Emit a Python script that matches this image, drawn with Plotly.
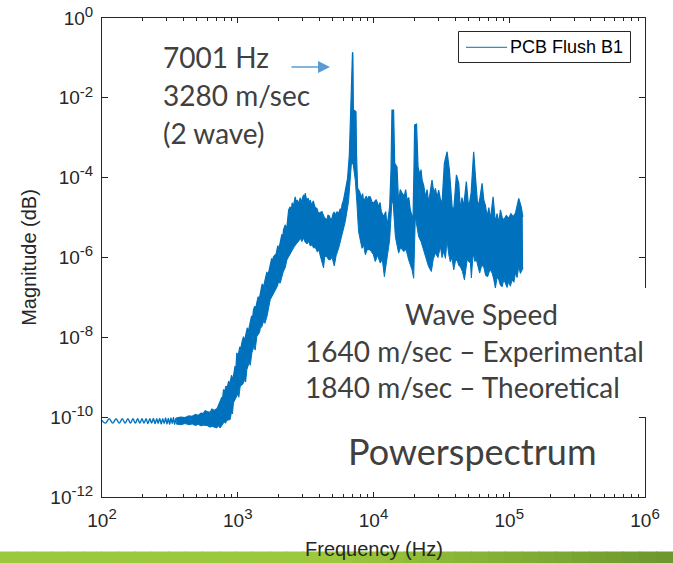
import numpy as np
import plotly.graph_objects as go

# ---------------------------------------------------------------------------
# Power spectrum of sensor "PCB Flush B1"
# ---------------------------------------------------------------------------

# Low-frequency ripple below ~350 Hz (Hz, log10 magnitude)
ripple_hz = [100, 106, 113, 120, 127, 134, 141, 148, 155, 162, 169, 176, 183,
             190, 197, 204, 211, 218, 225, 232, 239, 246, 253, 259, 266, 273,
             280, 287, 294, 301, 308, 315, 322, 329, 336, 343, 351]
ripple_log_mag = [-10.08, -10.15, -10.04, -10.15, -10.04, -10.15, -10.04,
                  -10.15, -10.04, -10.15, -10.04, -10.15, -10.04, -10.15,
                  -10.04, -10.15, -10.04, -10.16, -10.04, -10.15, -10.03,
                  -10.16, -10.04, -10.16, -10.03, -10.17, -10.04, -10.16,
                  -10.02, -10.17, -10.03, -10.18, -10.02, -10.16, -10.01,
                  -10.18, -10.02]

# Dominant resonance
peak_hz = 7001
peak_log_mag = -0.86

# Upper envelope of the dense spectrum: (log10 Hz, log10 magnitude);
# None marks where the resonance apex goes
upper_envelope = [
    (2.546, -10.02), (2.580, -10.00), (2.612, -10.01), (2.640, -9.97),
    (2.664, -9.98), (2.690, -9.93), (2.708, -9.96), (2.730, -9.90),
    (2.745, -9.91), (2.760, -9.84), (2.774, -9.86), (2.796, -9.88),
    (2.810, -9.80), (2.826, -9.83), (2.848, -9.78), (2.860, -9.70),
    (2.870, -9.61), (2.882, -9.50), (2.887, -9.58), (2.895, -9.31),
    (2.905, -9.36), (2.912, -9.22), (2.922, -9.26), (2.933, -9.10),
    (2.938, -9.18), (2.944, -9.11), (2.955, -8.95), (2.960, -9.04),
    (2.968, -8.98), (2.980, -8.72), (2.986, -8.80), (2.993, -8.39),
    (3.003, -8.46), (3.015, -8.24), (3.020, -8.33), (3.030, -8.14),
    (3.042, -7.98), (3.048, -8.08), (3.055, -8.01), (3.070, -7.76),
    (3.078, -7.86), (3.091, -7.64), (3.102, -7.46), (3.108, -7.55),
    (3.116, -7.31), (3.125, -7.22), (3.130, -7.30), (3.136, -7.21),
    (3.150, -6.98), (3.156, -7.08), (3.165, -6.89), (3.180, -6.66),
    (3.188, -6.76), (3.202, -6.56), (3.215, -6.36), (3.222, -6.46),
    (3.239, -6.23), (3.250, -6.02), (3.256, -6.12), (3.263, -5.98),
    (3.283, -5.91), (3.295, -5.70), (3.302, -5.80), (3.313, -5.64),
    (3.325, -5.42), (3.331, -5.52), (3.337, -5.31), (3.350, -5.18),
    (3.356, -5.30), (3.362, -5.23), (3.375, -4.81), (3.386, -4.73),
    (3.393, -4.85), (3.401, -4.63), (3.410, -4.72), (3.423, -4.48),
    (3.430, -4.62), (3.438, -4.56), (3.448, -4.66), (3.460, -4.51),
    (3.470, -4.62), (3.478, -4.50), (3.485, -4.43), (3.491, -4.55),
    (3.497, -4.39), (3.508, -4.58), (3.519, -4.51), (3.527, -4.66),
    (3.534, -4.56), (3.545, -4.70), (3.556, -4.58), (3.570, -4.75),
    (3.583, -4.77), (3.595, -4.90), (3.608, -4.88), (3.620, -4.85),
    (3.638, -5.00), (3.657, -5.06), (3.665, -4.94), (3.674, -4.96),
    (3.684, -5.05), (3.694, -5.02), (3.703, -4.90), (3.711, -4.86),
    (3.721, -4.95), (3.731, -4.85), (3.743, -4.90), (3.755, -4.78),
    (3.762, -4.85), (3.768, -4.68), (3.780, -4.55), (3.792, -4.35),
    (3.809, -4.02), (3.822, -3.43), (3.832, -2.43), (3.8415, -1.20),
    (3.8428, -0.88), None, (3.8476, -0.88), (3.849, -1.20),
    (3.852, -2.43), (3.858, -2.31), (3.871, -2.35),
    (3.875, -3.43), (3.883, -4.27), (3.898, -4.35), (3.905, -4.50),
    (3.910, -4.51), (3.920, -4.40), (3.927, -4.60), (3.947, -4.46),
    (3.955, -4.58), (3.964, -4.48), (3.976, -4.48), (3.990, -4.62),
    (4.001, -4.63), (4.020, -4.55), (4.038, -4.73), (4.048, -4.62),
    (4.058, -4.86), (4.075, -4.98), (4.090, -4.85), (4.100, -5.23),
    (4.119, -4.73), (4.129, -3.81), (4.136, -2.31), (4.148, -2.31),
    (4.156, -3.64), (4.173, -3.73), (4.180, -4.20), (4.185, -4.64),
    (4.197, -4.30), (4.210, -4.39), (4.227, -4.46), (4.237, -4.30),
    (4.247, -4.56), (4.260, -4.50), (4.271, -4.81), (4.291, -5.06),
    (4.298, -3.81), (4.303, -2.68), (4.317, -2.66), (4.328, -3.73),
    (4.341, -3.93), (4.350, -3.80), (4.358, -4.06), (4.370, -4.20),
    (4.382, -4.48), (4.395, -4.30), (4.406, -4.64), (4.431, -4.06),
    (4.445, -4.40), (4.456, -4.27), (4.468, -4.50), (4.480, -4.31),
    (4.493, -4.55), (4.505, -4.64), (4.522, -3.64), (4.542, -3.35),
    (4.559, -3.81), (4.570, -4.30), (4.579, -4.73), (4.591, -4.81),
    (4.611, -3.93), (4.628, -4.14), (4.640, -4.81), (4.652, -4.50),
    (4.664, -4.73), (4.684, -4.10), (4.701, -4.77), (4.719, -4.39),
    (4.738, -3.35), (4.751, -3.98), (4.768, -4.73), (4.782, -4.56),
    (4.800, -4.14), (4.812, -4.56), (4.825, -4.70), (4.837, -4.98),
    (4.850, -4.75), (4.861, -5.06), (4.881, -4.48), (4.898, -5.14),
    (4.910, -4.90), (4.923, -5.14), (4.935, -4.81), (4.948, -5.00),
    (4.959, -5.06), (4.978, -4.95), (4.996, -5.02), (5.012, -4.90),
    (5.029, -4.98), (5.046, -4.89), (5.070, -4.52), (5.088, -4.73),
    (5.100, -4.98),
]

# Lower envelope of the dense spectrum: (log10 Hz, log10 magnitude)
lower_envelope = [
    (2.546, -10.17), (2.580, -10.19), (2.612, -10.16), (2.640, -10.19),
    (2.664, -10.17), (2.690, -10.21), (2.708, -10.18), (2.730, -10.22),
    (2.745, -10.20), (2.774, -10.21), (2.795, -10.25), (2.811, -10.23),
    (2.846, -10.27), (2.855, -10.21), (2.870, -10.27), (2.885, -10.18),
    (2.900, -10.12), (2.910, -10.15), (2.920, -10.08), (2.944, -10.06),
    (2.955, -9.85), (2.961, -9.92), (2.968, -9.64), (2.988, -9.51),
    (3.000, -9.42), (3.008, -9.50), (3.018, -9.23), (3.040, -9.16),
    (3.052, -9.05), (3.058, -9.12), (3.067, -8.81), (3.085, -8.62),
    (3.092, -8.70), (3.104, -8.39), (3.120, -8.22), (3.128, -8.32),
    (3.141, -7.98), (3.160, -7.88), (3.166, -7.78), (3.178, -7.73),
    (3.195, -7.55), (3.200, -7.65), (3.215, -7.48), (3.239, -7.06),
    (3.255, -6.96), (3.262, -6.90), (3.276, -6.81), (3.292, -6.72),
    (3.300, -6.62), (3.313, -6.64), (3.335, -6.36), (3.350, -6.25),
    (3.362, -6.06), (3.380, -5.95), (3.399, -5.81), (3.416, -5.73),
    (3.436, -5.64), (3.448, -5.60), (3.460, -5.51), (3.472, -5.60),
    (3.485, -5.52), (3.497, -5.62), (3.510, -5.66), (3.522, -5.60),
    (3.534, -5.71), (3.548, -5.68), (3.558, -5.76), (3.572, -5.75),
    (3.586, -5.86), (3.598, -5.82), (3.608, -5.96), (3.632, -6.26),
    (3.640, -6.00), (3.652, -5.96), (3.668, -6.05), (3.681, -6.06),
    (3.695, -6.00), (3.711, -6.21), (3.725, -5.95), (3.743, -5.77),
    (3.768, -5.43), (3.792, -5.10), (3.816, -4.60), (3.829, -3.93),
    (3.838, -3.61), (3.851, -3.68), (3.866, -4.06), (3.877, -4.60),
    (3.890, -5.35), (3.915, -5.77), (3.928, -5.70), (3.940, -5.93),
    (3.955, -5.80), (3.976, -5.81), (3.999, -5.93), (4.013, -6.10),
    (4.030, -5.95), (4.050, -6.14), (4.065, -6.05), (4.080, -6.48),
    (4.100, -5.98), (4.119, -5.56), (4.136, -4.56), (4.146, -4.68),
    (4.161, -5.48), (4.185, -5.89), (4.200, -5.75), (4.222, -5.85),
    (4.240, -5.80), (4.259, -6.06), (4.284, -6.31), (4.296, -6.52),
    (4.308, -4.98), (4.333, -5.48), (4.350, -5.60), (4.369, -5.81),
    (4.388, -6.00), (4.406, -6.23), (4.426, -6.35), (4.440, -6.05),
    (4.456, -5.89), (4.475, -6.00), (4.493, -5.73), (4.505, -6.00),
    (4.517, -5.85), (4.530, -6.02), (4.542, -5.56), (4.553, -5.90),
    (4.566, -6.11), (4.578, -6.00), (4.591, -6.31), (4.603, -6.10),
    (4.616, -6.06), (4.628, -6.20), (4.640, -6.23), (4.655, -6.35),
    (4.670, -6.56), (4.690, -6.06), (4.714, -6.14), (4.721, -6.51),
    (4.734, -5.89), (4.746, -6.10), (4.758, -6.06), (4.770, -6.25),
    (4.782, -6.39), (4.797, -6.20), (4.812, -6.23), (4.826, -6.45),
    (4.841, -6.48), (4.858, -6.30), (4.874, -6.39), (4.886, -6.55),
    (4.898, -6.77), (4.910, -6.50), (4.923, -6.56), (4.935, -6.70),
    (4.948, -6.73), (4.960, -6.55), (4.972, -6.64), (4.984, -6.75),
    (4.996, -6.60), (5.008, -6.72), (5.021, -6.56), (5.034, -6.62),
    (5.046, -6.39), (5.058, -6.50), (5.070, -6.23), (5.082, -6.40),
    (5.095, -6.31), (5.102, -6.26),
]

# Axis ticks
x_tick_vals = [1e2, 1e3, 1e4, 1e5, 1e6]
x_tick_exp = ["2", "3", "4", "5", "6"]
y_tick_vals = [1e-12, 1e-10, 1e-8, 1e-6, 1e-4, 1e-2, 1e0]
y_tick_exp = ["-12", "-10", "-8", "-6", "-4", "-2", "0"]

legend_label = "PCB Flush B1"

# ---------------------------------------------------------------------------
# Figure geometry and styling
# ---------------------------------------------------------------------------
W, H = 673, 563
ML, MR, MT, MB = 102, 28, 18, 66
PW, PH = W - ML - MR, H - MT - MB


def pxx(x):
    """Horizontal pixel position -> paper coordinate."""
    return (x - ML) / PW


def pxy(y):
    """Vertical pixel position (from top) -> paper coordinate."""
    return (H - MB - y) / PH


def power_label(exp):
    return '10<sup><span style="font-size:15px">%s</span></sup>' % exp


BLUE = "#0072BD"
AXC = "#262626"
TXT = "#404040"
AX_FONT = "Liberation Sans, Arial, Helvetica, sans-serif"
SLIDE_FONT = "Lato, Carlito, Calibri, sans-serif"

up_x = [np.log10(peak_hz) if p is None else p[0] for p in upper_envelope]
up_y = [peak_log_mag if p is None else p[1] for p in upper_envelope]
lo_x = [p[0] for p in lower_envelope]
lo_y = [p[1] for p in lower_envelope]

fig = go.Figure()
fig.add_trace(go.Scatter(
    x=ripple_hz, y=10 ** np.array(ripple_log_mag), mode="lines",
    line=dict(color=BLUE, width=1.4, shape="spline", smoothing=1),
    name=legend_label, showlegend=False))
fig.add_trace(go.Scatter(
    x=10 ** np.array(lo_x), y=10 ** np.array(lo_y),
    mode="lines", line=dict(color=BLUE, width=1), showlegend=False))
fig.add_trace(go.Scatter(
    x=10 ** np.array(up_x), y=10 ** np.array(up_y), mode="lines",
    line=dict(color=BLUE, width=1.2), fill="tonexty", fillcolor=BLUE,
    showlegend=False))

x_minor = [m * 10 ** e for e in range(2, 6) for m in range(2, 10)]

fig.update_xaxes(
    type="log", range=[2, 6], tickvals=x_tick_vals,
    ticktext=[power_label(e) for e in x_tick_exp],
    ticks="inside", ticklen=5, tickwidth=1, tickcolor=AXC,
    showline=True, linecolor=AXC, linewidth=1, mirror="ticks",
    showgrid=False, zeroline=False, ticklabelstandoff=6, automargin=False,
    minor=dict(tickvals=x_minor, ticks="inside", ticklen=3, tickwidth=1,
               tickcolor=AXC, showgrid=False),
    tickfont=dict(family=AX_FONT, size=19, color=AXC))
fig.update_yaxes(
    type="log", range=[-12, 0], tickvals=y_tick_vals,
    ticktext=[power_label(e) for e in y_tick_exp],
    ticks="inside", ticklen=6, tickwidth=1, tickcolor=AXC,
    showline=True, linecolor=AXC, linewidth=1, mirror="ticks",
    showgrid=False, zeroline=False, ticklabelstandoff=4, automargin=False,
    tickfont=dict(family=AX_FONT, size=19, color=AXC),
    title=dict(text="Magnitude (dB)", standoff=8,
               font=dict(family=AX_FONT, size=20, color=AXC)))

shapes = []
# white text panel on the right that overlaps the axes frame
shapes.append(dict(type="rect", xref="paper", yref="paper",
                   x0=pxx(296), x1=pxx(673), y0=pxy(417), y1=pxy(288),
                   fillcolor="white", line=dict(width=0), layer="above"))
# legend box with its line sample
shapes.append(dict(type="rect", xref="paper", yref="paper",
                   x0=pxx(458.5), x1=pxx(630.5), y0=pxy(62.5), y1=pxy(31.5),
                   fillcolor="white", line=dict(color=AXC, width=1),
                   layer="above"))
shapes.append(dict(type="line", xref="paper", yref="paper",
                   x0=pxx(466), x1=pxx(507), y0=pxy(47.3), y1=pxy(47.3),
                   line=dict(color=BLUE, width=1), layer="above"))
# green footer band with a left-to-right shade
n_steps = 40
c0 = np.array([0x9B, 0xC8, 0x3C])
c1 = np.array([0x6C, 0x96, 0x2E])
xs = np.linspace(0, W, n_steps + 1)
for i in range(n_steps):
    t = max(0.0, (xs[i] - 330) / (W - 330))
    c = (c0 + (c1 - c0) * t).astype(int)
    shapes.append(dict(type="rect", xref="paper", yref="paper",
                       x0=pxx(xs[i]), x1=pxx(xs[i + 1]) + 0.002,
                       y0=pxy(H), y1=pxy(551.5),
                       fillcolor="rgb(%d,%d,%d)" % tuple(c),
                       line=dict(width=0), layer="above"))

annotations = [
    dict(text="7001 Hz", x=pxx(161), y=pxy(57), xanchor="left"),
    dict(text="3280 m/sec", x=pxx(161), y=pxy(95), xanchor="left"),
    dict(text="(2 wave)", x=pxx(161), y=pxy(133), xanchor="left"),
    dict(text="Wave Speed", x=pxx(481.5), y=pxy(314), xanchor="center"),
    dict(text="1640 m/sec \u2013 Experimental", x=pxx(303), y=pxy(351),
         xanchor="left"),
    dict(text="1840 m/sec \u2013 Theoretical", x=pxx(303), y=pxy(387),
         xanchor="left"),
]
for a in annotations:
    a.update(xref="paper", yref="paper", yanchor="middle", showarrow=False,
             font=dict(family=SLIDE_FONT, size=28, color=TXT))
annotations.append(dict(text="Powerspectrum", x=pxx(346), y=pxy(451),
                        xref="paper", yref="paper", xanchor="left",
                        yanchor="middle", showarrow=False,
                        font=dict(family=SLIDE_FONT, size=36, color=TXT)))
annotations.append(dict(text=legend_label, x=pxx(508), y=pxy(47.5),
                        xref="paper", yref="paper", xanchor="left",
                        yanchor="middle", showarrow=False,
                        font=dict(family=AX_FONT, size=18, color="#000000")))
# horizontal axis title, drawn over the footer band
annotations.append(dict(text="Frequency (Hz)", x=0.5, y=pxy(549),
                        xref="paper", yref="paper", xanchor="center",
                        yanchor="middle", showarrow=False,
                        font=dict(family=AX_FONT, size=20, color=AXC)))
# pointer to the resonance
annotations.append(dict(text="", x=pxx(330), y=pxy(67), xref="paper",
                        yref="paper", ax=-40, ay=0, showarrow=True,
                        arrowhead=2, arrowsize=1.6, arrowwidth=1.5,
                        arrowcolor="#5B9BD5"))

fig.update_layout(
    width=W, height=H,
    margin=dict(l=ML, r=MR, t=MT, b=MB, pad=0, autoexpand=False),
    paper_bgcolor="white", plot_bgcolor="white", showlegend=False,
    shapes=shapes, annotations=annotations, hovermode=False)

fig.write_html("out.html")
